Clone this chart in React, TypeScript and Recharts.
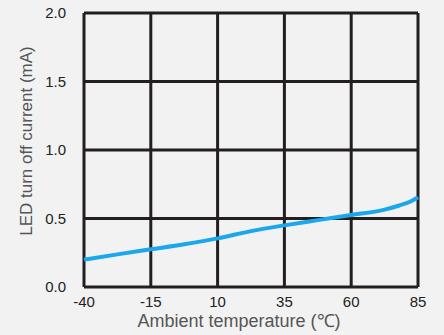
import React from "react";
import { LineChart, Line, XAxis, YAxis, CartesianGrid, Label } from "recharts";

const temps = [-40, -27.5, -15, -2.5, 10, 22.5, 35, 47.5, 60, 72.5, 78, 82, 85];
const currents = [0.2, 0.238, 0.275, 0.312, 0.355, 0.408, 0.45, 0.488, 0.525, 0.565, 0.595, 0.622, 0.655];
const xTicks = [-40, -15, 10, 35, 60, 85];
const yTicks = [0, 0.5, 1.0, 1.5, 2.0];

const data = temps.map((t, i) => ({ t, c: currents[i] }));

const font = "'Liberation Sans', Arial, sans-serif";

export default function App() {
  return (
    <div style={{ position: "absolute", left: 0, top: 0, width: 444, height: 335, background: "#f2f2f2" }}>
      <LineChart width={444} height={335} data={data} margin={{ top: 13, right: 26, bottom: 0, left: 0 }}>
        <CartesianGrid stroke="#231f20" strokeWidth={3} />
        <XAxis
          dataKey="t"
          type="number"
          domain={[-40, 85]}
          ticks={xTicks}
          axisLine={false}
          tickLine={false}
          height={48}
          tickMargin={3}
          tick={{ fill: "#222", fontSize: 15, fontFamily: font }}
        >
          <Label
            content={() => (
              <text x={239} y={327} textAnchor="middle" fill="#555" fontSize={18} fontFamily={font}>
                Ambient temperature (℃)
              </text>
            )}
          />
        </XAxis>
        <YAxis
          type="number"
          domain={[0, 2]}
          ticks={yTicks}
          axisLine={false}
          tickLine={false}
          width={84}
          tickMargin={12}
          tickFormatter={(v: number) => v.toFixed(1)}
          tick={{ fill: "#222", fontSize: 15, fontFamily: font }}
        >
          <Label
            content={() => (
              <text x={32} y={141} transform="rotate(-90, 32, 141)" textAnchor="middle" fill="#555" fontSize={17} fontFamily={font}>
                LED turn off current (mA)
              </text>
            )}
          />
        </YAxis>
        <Line dataKey="c" type="monotone" stroke="#1aa7ec" strokeWidth={4} dot={false} isAnimationActive={false} />
      </LineChart>
    </div>
  );
}
